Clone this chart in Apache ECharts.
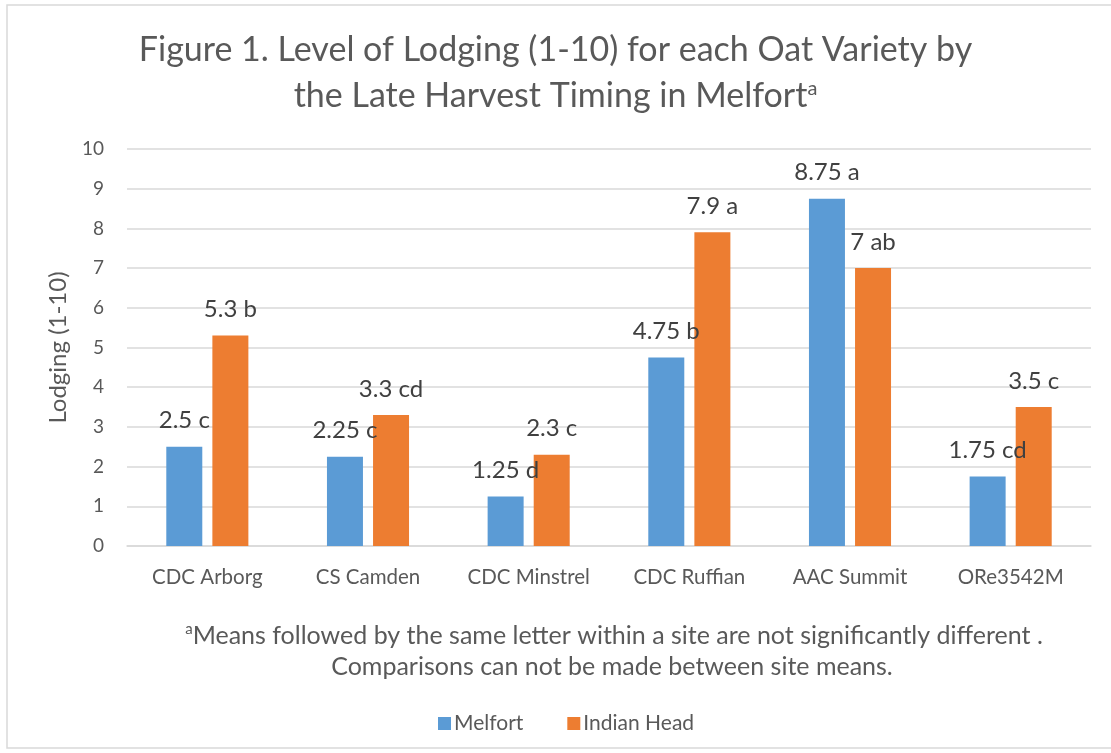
<!DOCTYPE html>
<html>
<head>
<meta charset="utf-8">
<script src="https://cdn.jsdelivr.net/npm/echarts@6/dist/echarts.min.js"></script>
<style>
html,body{margin:0;padding:0;background:#fff;}
#chart{width:1111px;height:753px;}
</style>
</head>
<body>
<div id="chart"></div>
<script>
const categories = ['CDC Arborg', 'CS Camden', 'CDC Minstrel', 'CDC Ruffian', 'AAC Summit', 'ORe3542M'];
const melfortValues = [2.5, 2.25, 1.25, 4.75, 8.75, 1.75];
const melfortLetters = ['c', 'c', 'd', 'b', 'a', 'cd'];
const indianHeadValues = [5.3, 3.3, 2.3, 7.9, 7, 3.5];
const indianHeadLetters = ['b', 'cd', 'c', 'a', 'ab', 'c'];
const yTicks = [0, 1, 2, 3, 4, 5, 6, 7, 8, 9, 10];

const FONT = 'Lato, "Open Sans", sans-serif';
const chart = echarts.init(document.getElementById('chart'));

function labelFor(letters) {
  return {
    show: true,
    position: 'top',
    distance: 14,
    fontFamily: FONT,
    fontSize: 24,
    color: '#404040',
    formatter: p => p.value + ' ' + letters[p.dataIndex]
  };
}

chart.setOption({
  backgroundColor: '#ffffff',
  animation: false,
  title: {
    text: 'Figure 1. Level of Lodging (1-10) for each Oat Variety by\nthe Late Harvest Timing in Melfort{sup|a}',
    left: 'center',
    top: 22,
    textStyle: {
      fontFamily: FONT,
      fontSize: 34,
      fontWeight: 'normal',
      color: '#595959',
      lineHeight: 46,
      rich: {
        sup: { fontFamily: FONT, fontSize: 20, color: '#595959', padding: [0, 0, 15, 0] }
      }
    }
  },
  legend: {
    data: ['Melfort', 'Indian Head'],
    left: 433,
    top: 708,
    itemWidth: 13,
    itemHeight: 13,
    itemGap: 44,
    icon: 'rect',
    textStyle: { fontFamily: FONT, fontSize: 21, color: '#595959', padding: [0, 0, 0, -2] }
  },
  grid: { left: 127, right: 20, top: 149, bottom: 207, containLabel: false },
  xAxis: {
    type: 'category',
    data: categories,
    axisLine: { show: true, lineStyle: { color: '#D9D9D9', width: 1.5 } },
    axisTick: { show: false },
    axisLabel: { fontFamily: FONT, fontSize: 20.5, color: '#595959', margin: 21 }
  },
  yAxis: {
    type: 'value',
    min: 0,
    max: 10,
    interval: 1,
    name: 'Lodging (1-10)',
    nameLocation: 'middle',
    nameGap: 57,
    nameTextStyle: { fontFamily: FONT, fontSize: 24, color: '#595959' },
    axisLine: { show: false },
    axisTick: { show: false },
    axisLabel: {
      fontFamily: FONT, fontSize: 19, color: '#595959', margin: 23,
      formatter: v => yTicks.includes(v) ? String(v) : ''
    },
    splitLine: { lineStyle: { color: '#D9D9D9', width: 1.5 } }
  },
  series: [
    {
      name: 'Melfort',
      type: 'bar',
      data: melfortValues,
      barWidth: 36,
      barGap: '28%',
      itemStyle: { color: '#5B9BD5' },
      label: labelFor(melfortLetters)
    },
    {
      name: 'Indian Head',
      type: 'bar',
      data: indianHeadValues,
      barWidth: 36,
      itemStyle: { color: '#ED7D31' },
      label: labelFor(indianHeadLetters)
    }
  ],
  graphic: [
    {
      type: 'rect',
      shape: { x: 7, y: 5, width: 1200, height: 743 },
      style: { fill: 'none', stroke: '#D9D9D9', lineWidth: 1.5 },
      silent: true,
      z: -1
    },
    {
      type: 'text',
      x: 614,
      y: 636,
      style: {
        text: '{sup|a}Means followed by the same letter within a site are not significantly different .',
        textAlign: 'center',
        textVerticalAlign: 'middle',
        fontFamily: FONT,
        fontSize: 25,
        fill: '#595959',
        rich: {
          sup: { fontFamily: FONT, fontSize: 15, fill: '#595959', padding: [0, 0, 13, 0] }
        }
      }
    },
    {
      type: 'text',
      x: 612,
      y: 667,
      style: {
        text: 'Comparisons can not be made between site means.',
        textAlign: 'center',
        textVerticalAlign: 'middle',
        fontFamily: FONT,
        fontSize: 25,
        fill: '#595959'
      }
    }
  ]
});
</script>
</body>
</html>
